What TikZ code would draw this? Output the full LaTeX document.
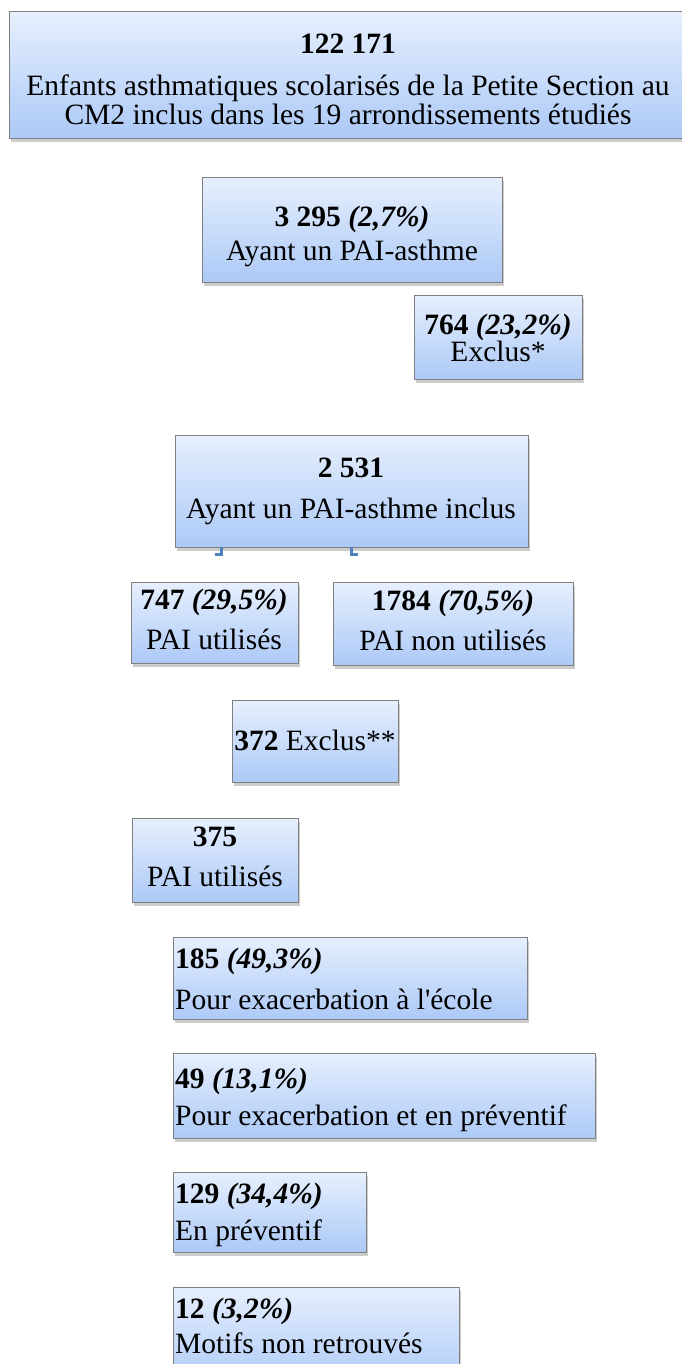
\documentclass[tikz,border=0pt]{standalone}
\usepackage{fontspec}
\setmainfont{Liberation Serif}[Ligatures=TeXOff]
\usetikzlibrary{shadows}
\definecolor{boxtop}{RGB}{230,239,253}
\definecolor{boxbot}{RGB}{172,201,247}
\definecolor{boxline}{RGB}{128,128,128}
\definecolor{connblue}{RGB}{79,129,189}
\begin{document}
\begin{tikzpicture}[x=1pt,y=-1pt,
  box/.style={draw=boxline, line width=1.2pt, top color=boxtop, bottom color=boxbot,
    drop shadow={shadow xshift=1.5pt, shadow yshift=-3.5pt, opacity=0.4},
    anchor=north west, inner sep=0pt},
  txt/.style={anchor=base, inner sep=0pt, font=\fontsize{29.5}{30}\selectfont},
  ltxt/.style={txt, anchor=base west},
  conn/.style={draw=connblue, line width=3pt}]
\useasboundingbox (0,0) rectangle (681,1364);

% boxes
\node[box, minimum width=700pt, minimum height=127pt] (b1) at (9,11) {};
\node[box, minimum width=300pt, minimum height=105pt] (b2) at (202,177) {};
\node[box, minimum width=168pt, minimum height=84pt] (b3) at (414,295) {};
\node[box, minimum width=353pt, minimum height=112pt] (b4) at (175,435) {};
\node[box, minimum width=167pt, minimum height=81pt] (b5) at (131,582) {};
\node[box, minimum width=240pt, minimum height=83pt] (b6) at (333,582) {};
\node[box, minimum width=166pt, minimum height=82pt] (b7) at (232,700) {};
\node[box, minimum width=166pt, minimum height=84pt] (b8) at (132,818) {};
\node[box, minimum width=354pt, minimum height=82pt] (b9) at (173,937) {};
\node[box, minimum width=422pt, minimum height=85pt] (b10) at (173,1053) {};
\node[box, minimum width=193pt, minimum height=80pt] (b11) at (173,1172) {};
\node[box, minimum width=286pt, minimum height=100pt] (b12) at (173,1287) {};

% connector fragments
\coordinate (l1) at (221,547);
\coordinate (l2) at (215,554);
\coordinate (r1) at (351,547);
\coordinate (r2) at (358,554);
\draw[conn] (l1) |- (l2);
\draw[conn] (r1) |- (r2);

% texts
\node[txt] (t1a) at (348,54) {\textbf{122 171}};
\node[txt] (t1b) at (348,96) {Enfants asthmatiques scolarisés de la Petite Section au};
\node[txt] (t1c) at (348,125) {CM2 inclus dans les 19 arrondissements étudiés};

\node[txt] (t2a) at (352,226) {\textbf{3 295 \textit{(2,7\%)}}};
\node[txt] (t2b) at (352,261) {Ayant un PAI-asthme};

\node[txt] (t3a) at (498,334) {\textbf{764 \textit{(23,2\%)}}};
\node[txt] (t3b) at (498,361) {Exclus*};

\node[txt] (t4a) at (351,477) {\textbf{2 531}};
\node[txt] (t4b) at (351,518) {Ayant un PAI-asthme inclus};

\node[txt] (t5a) at (214,609) {\textbf{747 \textit{(29,5\%)}}};
\node[txt] (t5b) at (214,649) {PAI utilisés};

\node[txt] (t6a) at (453,610) {\textbf{1784 \textit{(70,5\%)}}};
\node[txt] (t6b) at (453,650) {PAI non utilisés};

\node[txt] (t7) at (315,750) {\textbf{372} Exclus**};

\node[txt] (t8a) at (215,846) {\textbf{375}};
\node[txt] (t8b) at (215,886) {PAI utilisés};

\node[ltxt] (t9a) at (175,968) {\textbf{185 \textit{(49,3\%)}}};
\node[ltxt] (t9b) at (175,1009) {Pour exacerbation à l'école};

\node[ltxt] (t10a) at (175,1088) {\textbf{49 \textit{(13,1\%)}}};
\node[ltxt] (t10b) at (175,1125) {Pour exacerbation et en préventif};

\node[ltxt] (t11a) at (175,1203) {\textbf{129 \textit{(34,4\%)}}};
\node[ltxt] (t11b) at (175,1240) {En préventif};

\node[ltxt] (t12a) at (175,1318) {\textbf{12 \textit{(3,2\%)}}};
\node[ltxt] (t12b) at (175,1353) {Motifs non retrouvés};
\end{tikzpicture}
\end{document}
